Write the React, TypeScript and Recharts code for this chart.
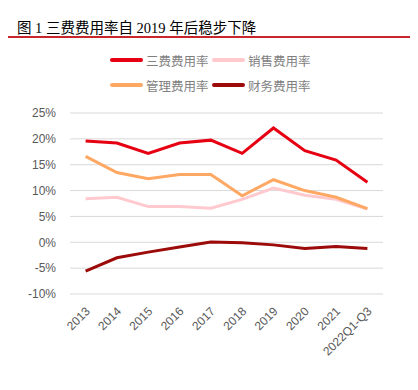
import { LineChart, Line, XAxis, YAxis, CartesianGrid } from 'recharts'

const years = ['2013', '2014', '2015', '2016', '2017', '2018', '2019', '2020', '2021', '2022Q1-Q3']
const sanfei = [19.6, 19.2, 17.2, 19.2, 19.75, 17.2, 22.1, 17.7, 15.9, 11.6]
const xiaoshou = [8.4, 8.7, 6.9, 6.9, 6.6, 8.3, 10.5, 9.1, 8.3, 6.4]
const guanli = [16.6, 13.5, 12.3, 13.1, 13.1, 9.0, 12.1, 10.0, 8.7, 6.5]
const caiwu = [-5.6, -3.0, -1.9, -0.9, 0.06, -0.1, -0.5, -1.2, -0.8, -1.2]
const yTicks = [-10, -5, 0, 5, 10, 15, 20, 25]

const series = [
  { key: 'sanfei', name: '三费费用率', color: '#E60012' },
  { key: 'xiaoshou', name: '销售费用率', color: '#FFC9CE' },
  { key: 'guanli', name: '管理费用率', color: '#FFA863' },
  { key: 'caiwu', name: '财务费用率', color: '#9C0A0A' },
]

const chartData = years.map((y, i) => ({
  name: y,
  sanfei: sanfei[i],
  xiaoshou: xiaoshou[i],
  guanli: guanli[i],
  caiwu: caiwu[i],
}))

const font = '"Liberation Sans", "Noto Sans CJK SC", sans-serif'

function XTick(props: any) {
  const { x, y, payload } = props
  return (
    <g transform={`translate(${x + 5},${y + 10})`}>
      <text
        x={0}
        y={0}
        textAnchor="end"
        transform="rotate(-45)"
        fill="#595959"
        fontSize={12}
        fontFamily={font}
      >
        {payload.value}
      </text>
    </g>
  )
}

function LegendItem({ color, label, left, top }: { color: string; label: string; left: number; top: number }) {
  return (
    <div style={{ position: 'absolute', left, top, display: 'flex', alignItems: 'center', height: 16 }}>
      <div style={{ width: 33, height: 4, background: color, borderRadius: 2 }} />
      <span style={{ marginLeft: 3, fontSize: 12.5, color: '#7F7F7F', fontFamily: '"Noto Sans CJK SC", sans-serif', whiteSpace: 'nowrap' }}>
        {label}
      </span>
    </div>
  )
}

export default function App() {
  return (
    <div style={{ position: 'relative', width: 418, height: 390, margin: -8, background: '#fff', overflow: 'hidden' }}>
      <div
        style={{
          position: 'absolute',
          left: 17,
          top: 16,
          fontSize: 14.5,
          color: '#000',
          fontFamily: '"Liberation Serif", "Noto Sans CJK SC", serif',
          whiteSpace: 'nowrap',
        }}
      >
        图 1 三费费用率自 2019 年后稳步下降
      </div>
      <div style={{ position: 'absolute', left: 8, top: 36, width: 410, height: 1.5, background: '#C9252C' }} />

      <LegendItem color={series[0].color} label={series[0].name} left={110} top={52} />
      <LegendItem color={series[1].color} label={series[1].name} left={212} top={52} />
      <LegendItem color={series[2].color} label={series[2].name} left={110} top={77} />
      <LegendItem color={series[3].color} label={series[3].name} left={212} top={77} />

      <div style={{ position: 'absolute', left: 0, top: 0 }}>
        <LineChart width={418} height={390} data={chartData} margin={{ top: 113, right: 35, left: 10, bottom: 0 }}>
          <CartesianGrid vertical={false} stroke="#D9D9D9" />
          <XAxis
            dataKey="name"
            axisLine={false}
            tickLine={false}
            interval={0}
            height={96}
            padding={{ left: 15.6, right: 15.6 }}
            tick={<XTick />}
          />
          <YAxis
            domain={[-10, 25]}
            ticks={yTicks}
            width={60}
            axisLine={false}
            tickLine={false}
            tickSize={0}
            tickMargin={14}
            tickFormatter={(v: number) => `${v}%`}
            tick={{ fill: '#595959', fontSize: 12, fontFamily: font }}
          />
          {series.map((s) => (
            <Line
              key={s.key}
              dataKey={s.key}
              name={s.name}
              type="linear"
              stroke={s.color}
              strokeWidth={3}
              dot={false}
              isAnimationActive={false}
            />
          ))}
        </LineChart>
      </div>

      <div style={{ position: 'absolute', left: 8, top: 383.5, width: 410, height: 1.5, background: '#E00000' }} />
    </div>
  )
}
